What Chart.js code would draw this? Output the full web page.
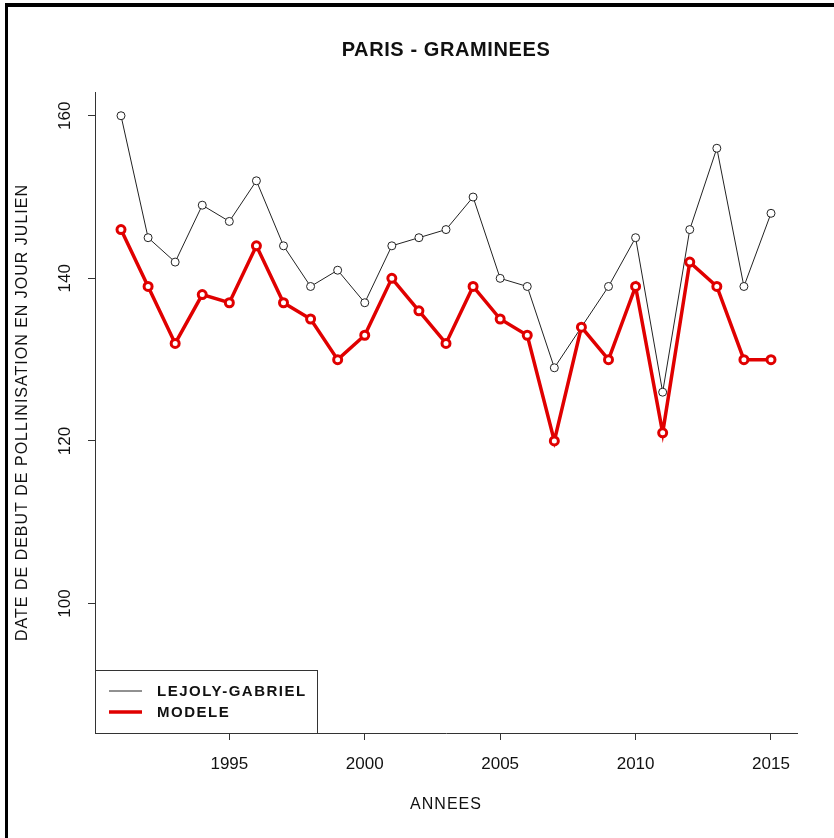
<!DOCTYPE html>
<html>
<head>
<meta charset="utf-8">
<script src="https://cdn.jsdelivr.net/npm/chart.js@4.4.1/dist/chart.umd.min.js"></script>
<style>
  html, body { margin: 0; padding: 0; background: #fff; }
  #wrap { position: relative; width: 834px; height: 838px; overflow: hidden; }
  #frame { position: absolute; left: 5px; top: 3px; right: -10px; bottom: -10px;
           border-left: 3px solid #000; border-top: 4px solid #000; pointer-events: none; }
</style>
</head>
<body>
<div id="wrap">
  <canvas id="chart" width="834" height="838"></canvas>
  <div id="frame"></div>
</div>
<script>
const years = [1991, 1992, 1993, 1994, 1995, 1996, 1997, 1998, 1999, 2000, 2001, 2002, 2003,
               2004, 2005, 2006, 2007, 2008, 2009, 2010, 2011, 2012, 2013, 2014, 2015];
const lejolyGabriel = [160, 145, 142, 149, 147, 152, 144, 139, 141, 137, 144, 145, 146,
                       150, 140, 139, 129, 134, 139, 145, 126, 146, 156, 139, 148];
const modele = [146, 139, 132, 138, 137, 144, 137, 135, 130, 133, 140, 136, 132,
                139, 135, 133, 120, 134, 130, 139, 121, 142, 139, 130, 130];
const xTicks = [1995, 2000, 2005, 2010, 2015];
const yTicks = [100, 120, 140, 160];
const seriesNames = ['LEJOLY-GABRIEL', 'MODELE'];
const chartTitle = 'PARIS - GRAMINEES';
const xTitle = 'ANNEES';
const yTitle = 'DATE DE DEBUT DE POLLINISATION EN JOUR JULIEN';

const fontFamily = "'Liberation Sans', Arial, sans-serif";
const axisColor = '#333';
const redColor = '#e00000';

// text, rotated y labels and the legend box, drawn R style
const rStyle = {
    id: 'rStyle',
    afterDraw(chart) {
        const ctx = chart.ctx;
        const area = chart.chartArea;
        const yScale = chart.scales.y;
        const midX = (area.left + area.right) / 2;
        const midY = (area.top + area.bottom) / 2;

        ctx.save();
        ctx.fillStyle = '#111';

        // title
        ctx.font = `bold 20px ${fontFamily}`;
        ctx.textAlign = 'center';
        ctx.textBaseline = 'middle';
        ctx.letterSpacing = '0.6px';
        ctx.fillText(chartTitle, midX, 50);

        // x title
        ctx.font = `16px ${fontFamily}`;
        ctx.letterSpacing = '1px';
        ctx.fillText(xTitle, midX, 805);

        // y title
        ctx.save();
        ctx.translate(23, midY);
        ctx.rotate(-Math.PI / 2);
        ctx.font = `16px ${fontFamily}`;
        ctx.letterSpacing = '1px';
        ctx.fillText(yTitle, 0, 0);
        ctx.restore();

        // y tick labels (rotated like R's las=0)
        ctx.letterSpacing = '0px';
        ctx.font = `17px ${fontFamily}`;
        yTicks.forEach(v => {
            const py = yScale.getPixelForValue(v);
            ctx.save();
            ctx.translate(65, py);
            ctx.rotate(-Math.PI / 2);
            ctx.fillText(String(v), 0, 0);
            ctx.restore();
        });

        // legend
        const lx = area.left, ly = 670, lw = 222, lh = area.bottom - 670;
        ctx.strokeStyle = axisColor;
        ctx.lineWidth = 1;
        ctx.strokeRect(lx + 0.5, ly + 0.5, lw, lh);
        ctx.textAlign = 'left';
        ctx.font = `bold 15px ${fontFamily}`;
        ctx.letterSpacing = '1.5px';
        chart.data.datasets.forEach((ds, i) => {
            const rowY = 691 + i * 21;
            ctx.strokeStyle = ds.borderColor;
            ctx.lineWidth = ds.borderWidth;
            ctx.beginPath();
            ctx.moveTo(lx + 14, rowY);
            ctx.lineTo(lx + 47, rowY);
            ctx.stroke();
            ctx.fillStyle = '#111';
            ctx.fillText(ds.label, lx + 62, rowY + 1);
        });
        ctx.restore();
    }
};

const ctx = document.getElementById('chart');
new Chart(ctx, {
    type: 'line',
    data: {
        datasets: [
            {
                label: seriesNames[0],
                data: years.map((yr, i) => ({ x: yr, y: lejolyGabriel[i] })),
                borderColor: '#222',
                borderWidth: 1,
                pointRadius: 4,
                pointBorderWidth: 1,
                pointBackgroundColor: '#fff',
                pointBorderColor: '#222',
                tension: 0,
                order: 2
            },
            {
                label: seriesNames[1],
                data: years.map((yr, i) => ({ x: yr, y: modele[i] })),
                borderColor: redColor,
                borderWidth: 3.5,
                pointRadius: 4,
                pointBorderWidth: 3,
                pointBackgroundColor: '#fff',
                pointBorderColor: redColor,
                tension: 0,
                order: 1
            }
        ]
    },
    options: {
        responsive: false,
        animation: false,
        layout: { padding: { top: 92, right: 37, left: 0, bottom: 0 } },
        plugins: {
            legend: { display: false },
            title: { display: false },
            tooltip: { enabled: false }
        },
        scales: {
            x: {
                type: 'linear',
                min: 1990.04,
                max: 2015.96,
                afterBuildTicks: scale => { scale.ticks = xTicks.map(v => ({ value: v })); },
                afterFit: scale => { scale.height = 105; },
                ticks: {
                    color: '#111',
                    font: { family: fontFamily, size: 17 },
                    padding: 14,
                    maxRotation: 0,
                    callback: v => String(v)
                },
                grid: { drawOnChartArea: false, tickLength: 7, color: axisColor },
                border: { color: axisColor, width: 1 }
            },
            y: {
                type: 'linear',
                min: 84.08,
                max: 162.92,
                afterBuildTicks: scale => { scale.ticks = yTicks.map(v => ({ value: v })); },
                afterFit: scale => { scale.width = 95; },
                ticks: { display: false },
                grid: { drawOnChartArea: false, tickLength: 7, color: axisColor },
                border: { color: axisColor, width: 1 }
            }
        }
    },
    plugins: [rStyle]
});
</script>
</body>
</html>
